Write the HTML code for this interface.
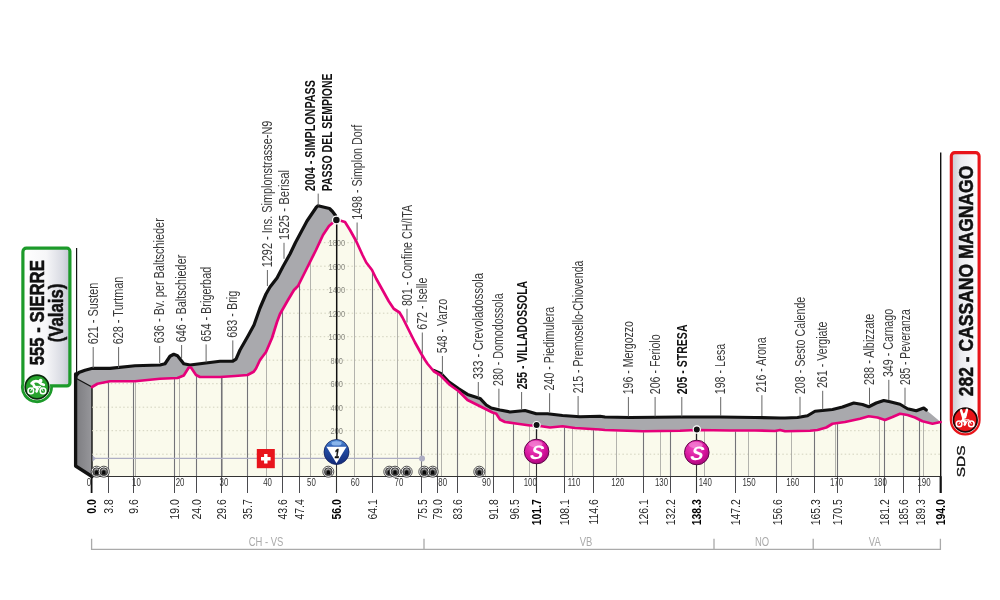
<!DOCTYPE html>
<html lang="it"><head><meta charset="utf-8"><title>Sierre - Cassano Magnago</title>
<style>
html,body{margin:0;padding:0;background:#fff}
body{width:1000px;height:600px;overflow:hidden}
svg{display:block}
text{font-family:"Liberation Sans",sans-serif}
.lb{font-size:14.1px;fill:#3a3a3a}
.lbb{font-size:14.8px;fill:#111;font-weight:bold}
.km{font-size:13.5px;fill:#2a2a2a}
.kmb{font-size:13.5px;fill:#000;font-weight:bold}
.tk{font-size:10.5px;fill:#333;text-anchor:middle}
.el{font-size:9.3px;fill:#8a8a82;text-anchor:middle}
.pv{font-size:13.5px;fill:#aaa;text-anchor:middle}
</style></head><body>
<svg width="1000" height="600" viewBox="0 0 1000 600">
<defs>
<linearGradient id="gbox" x1="0" y1="0" x2="1" y2="0"><stop offset="0" stop-color="#ffffff"/><stop offset="0.5" stop-color="#f6f6f8"/><stop offset="0.85" stop-color="#d8dae2"/><stop offset="1" stop-color="#c2c6d2"/></linearGradient>
<linearGradient id="gbox2" x1="0" y1="0" x2="1" y2="0"><stop offset="0" stop-color="#c6c6ce"/><stop offset="0.35" stop-color="#ececf0"/><stop offset="1" stop-color="#ffffff"/></linearGradient>
<radialGradient id="gs" cx="0.4" cy="0.3" r="0.8"><stop offset="0" stop-color="#f04cc0"/><stop offset="0.6" stop-color="#d4109a"/><stop offset="1" stop-color="#9c0670"/></radialGradient>
<linearGradient id="gk" x1="0" y1="0" x2="0" y2="1"><stop offset="0" stop-color="#5a98e0"/><stop offset="0.35" stop-color="#2450a8"/><stop offset="1" stop-color="#142a78"/></linearGradient>
<linearGradient id="gleft" x1="0" y1="0" x2="1" y2="0"><stop offset="0" stop-color="#7c7c80"/><stop offset="1" stop-color="#97979b"/></linearGradient>
</defs>
<rect width="1000" height="600" fill="#fff"/>

<polygon points="75.60,378.50 76.30,375.40 78.75,372.60 85.00,370.20 92.50,368.30 110.00,368.40 135.00,365.75 160.00,365.00 165.00,363.75 170.00,356.25 173.75,354.25 177.50,355.75 183.75,363.75 190.00,365.00 210.00,362.50 220.00,361.25 232.50,361.25 236.00,359.20 240.00,350.00 248.00,336.00 254.00,325.00 260.00,308.00 266.00,294.00 270.00,287.00 277.00,278.00 283.00,266.50 290.00,254.00 295.50,242.50 307.00,221.00 316.50,207.00 318.00,205.80 329.50,208.50 332.50,211.50 335.50,215.50 340.00,220.50 345.00,222.00 350.00,230.00 356.25,241.25 362.50,255.00 366.25,262.50 372.00,270.00 376.25,278.75 382.50,290.00 388.75,301.25 393.75,308.75 399.50,312.50 402.50,317.50 407.50,327.50 415.00,342.50 421.25,353.75 425.00,360.00 427.50,363.75 433.75,370.40 441.25,373.80 448.75,381.80 458.75,388.80 467.50,394.40 480.00,398.40 486.25,405.00 491.25,408.00 500.00,410.00 510.00,412.00 525.00,410.50 536.25,413.75 547.50,413.75 562.50,415.50 580.00,416.75 600.00,416.25 605.00,417.00 630.00,417.50 680.00,417.00 720.00,417.00 755.00,417.50 780.00,418.00 785.00,418.00 797.50,417.50 807.50,415.75 815.00,411.25 832.50,409.50 842.50,407.00 853.75,403.00 862.50,404.50 868.75,406.75 876.25,403.00 883.75,400.50 890.00,401.75 900.00,404.25 907.50,408.75 916.25,410.75 923.75,408.00 926.25,410.00 940.60,422.00 932.50,423.75 922.50,421.25 915.00,417.50 907.50,415.00 900.00,413.75 892.50,417.00 885.00,420.00 877.50,417.50 868.75,416.25 860.00,418.75 845.00,422.00 832.50,423.75 826.25,427.50 817.50,430.00 810.00,430.75 785.00,431.25 780.00,430.00 775.00,431.00 755.00,430.50 730.00,430.50 696.25,430.00 680.00,430.75 642.50,431.25 605.00,430.00 600.00,429.50 575.00,428.00 562.50,426.25 550.00,427.50 536.25,425.50 530.00,425.50 517.50,423.75 505.00,422.00 500.00,419.50 496.25,413.75 492.50,412.50 482.50,407.50 467.50,400.00 458.75,391.25 450.00,385.00 440.00,375.00 433.75,371.25 427.50,363.75 425.00,360.00 421.25,353.75 415.00,342.50 407.50,327.50 402.50,317.50 399.50,312.50 393.75,308.75 388.75,301.25 382.50,290.00 376.25,278.75 372.00,270.00 366.25,262.50 362.50,255.00 356.25,241.25 350.00,230.00 345.00,222.00 340.00,220.50 336.50,220.00 332.50,223.00 329.00,226.00 323.00,235.00 316.00,250.00 306.00,270.00 298.00,286.00 294.00,290.00 288.00,300.00 280.00,314.00 277.00,322.00 272.00,338.00 266.00,352.00 260.00,360.00 256.00,368.50 253.70,371.80 247.50,375.00 235.00,376.00 220.00,377.00 200.00,377.00 196.00,375.00 191.00,367.50 188.75,367.50 183.75,375.50 177.50,378.00 160.00,378.75 135.00,381.25 110.00,381.25 97.50,383.75 92.00,387.00" fill="#a9a9ad"/>
<polyline points="75.60,378.50 76.30,375.40 78.75,372.60 85.00,370.20 92.50,368.30 110.00,368.40 135.00,365.75 160.00,365.00 165.00,363.75 170.00,356.25 173.75,354.25 177.50,355.75 183.75,363.75 190.00,365.00 210.00,362.50 220.00,361.25 232.50,361.25 236.00,359.20 240.00,350.00 248.00,336.00 254.00,325.00 260.00,308.00 266.00,294.00 270.00,287.00 277.00,278.00 283.00,266.50 290.00,254.00 295.50,242.50 307.00,221.00 316.50,207.00 318.00,205.80 329.50,208.50 332.50,211.50 335.50,215.50" fill="none" stroke="#111" stroke-width="3.2" stroke-linejoin="round" stroke-linecap="round"/>
<polyline points="433.75,370.40 441.25,373.80 448.75,381.80 458.75,388.80 467.50,394.40 480.00,398.40 486.25,405.00 491.25,408.00 500.00,410.00 510.00,412.00 525.00,410.50 536.25,413.75 547.50,413.75 562.50,415.50 580.00,416.75 600.00,416.25 605.00,417.00 630.00,417.50 680.00,417.00 720.00,417.00 755.00,417.50 780.00,418.00 785.00,418.00 797.50,417.50 807.50,415.75 815.00,411.25 832.50,409.50 842.50,407.00 853.75,403.00 862.50,404.50 868.75,406.75 876.25,403.00 883.75,400.50 890.00,401.75 900.00,404.25 907.50,408.75 916.25,410.75 923.75,408.00 926.25,410.00" fill="none" stroke="#111" stroke-width="3.2" stroke-linejoin="round" stroke-linecap="round"/>
<polygon points="92.00,387.00 97.50,383.75 110.00,381.25 135.00,381.25 160.00,378.75 177.50,378.00 183.75,375.50 188.75,367.50 191.00,367.50 196.00,375.00 200.00,377.00 220.00,377.00 235.00,376.00 247.50,375.00 253.70,371.80 256.00,368.50 260.00,360.00 266.00,352.00 272.00,338.00 277.00,322.00 280.00,314.00 288.00,300.00 294.00,290.00 298.00,286.00 306.00,270.00 316.00,250.00 323.00,235.00 329.00,226.00 332.50,223.00 336.50,220.00 340.00,220.50 345.00,222.00 350.00,230.00 356.25,241.25 362.50,255.00 366.25,262.50 372.00,270.00 376.25,278.75 382.50,290.00 388.75,301.25 393.75,308.75 399.50,312.50 402.50,317.50 407.50,327.50 415.00,342.50 421.25,353.75 425.00,360.00 427.50,363.75 433.75,371.25 440.00,375.00 450.00,385.00 458.75,391.25 467.50,400.00 482.50,407.50 492.50,412.50 496.25,413.75 500.00,419.50 505.00,422.00 517.50,423.75 530.00,425.50 536.25,425.50 550.00,427.50 562.50,426.25 575.00,428.00 600.00,429.50 605.00,430.00 642.50,431.25 680.00,430.75 696.25,430.00 730.00,430.50 755.00,430.50 775.00,431.00 780.00,430.00 785.00,431.25 810.00,430.75 817.50,430.00 826.25,427.50 832.50,423.75 845.00,422.00 860.00,418.75 868.75,416.25 877.50,417.50 885.00,420.00 892.50,417.00 900.00,413.75 907.50,415.00 915.00,417.50 922.50,421.25 932.50,423.75 940.60,422.00 940.60,476.50 92.00,476.50" fill="#fafaec"/>
<polygon points="75.5,378 92,387 92,476.5 75.5,466" fill="url(#gleft)" stroke="#111" stroke-width="1.4" stroke-linejoin="round"/>
<path d="M75.6,374 L75.6,466 L92,476.5" fill="none" stroke="#111" stroke-width="3.3" stroke-linejoin="round" stroke-linecap="round"/>
<line x1="92.0" y1="454.2" x2="940.5" y2="454.2" stroke="#d2d2be" stroke-width="1" stroke-dasharray="1.5,2.4"/>
<line x1="92.0" y1="430.7" x2="601.5" y2="430.7" stroke="#d2d2be" stroke-width="1" stroke-dasharray="1.5,2.4"/>
<line x1="819.0" y1="430.7" x2="940.5" y2="430.7" stroke="#d2d2be" stroke-width="1" stroke-dasharray="1.5,2.4"/>
<line x1="92.0" y1="407.2" x2="479.5" y2="407.2" stroke="#d2d2be" stroke-width="1" stroke-dasharray="1.5,2.4"/>
<line x1="103.0" y1="383.7" x2="447.5" y2="383.7" stroke="#d2d2be" stroke-width="1" stroke-dasharray="1.5,2.4"/>
<line x1="261.0" y1="360.2" x2="424.5" y2="360.2" stroke="#d2d2be" stroke-width="1" stroke-dasharray="1.5,2.4"/>
<line x1="273.0" y1="336.7" x2="411.5" y2="336.7" stroke="#d2d2be" stroke-width="1" stroke-dasharray="1.5,2.4"/>
<line x1="281.5" y1="313.2" x2="399.0" y2="313.2" stroke="#d2d2be" stroke-width="1" stroke-dasharray="1.5,2.4"/>
<line x1="295.5" y1="289.7" x2="381.5" y2="289.7" stroke="#d2d2be" stroke-width="1" stroke-dasharray="1.5,2.4"/>
<line x1="308.5" y1="266.2" x2="368.0" y2="266.2" stroke="#d2d2be" stroke-width="1" stroke-dasharray="1.5,2.4"/>
<line x1="320.0" y1="242.7" x2="356.0" y2="242.7" stroke="#d2d2be" stroke-width="1" stroke-dasharray="1.5,2.4"/>
<line x1="135.5" y1="382.2" x2="135.5" y2="476.5" stroke="#9c9c98" stroke-width="1" opacity="0.75"/>
<line x1="179.5" y1="378.2" x2="179.5" y2="476.5" stroke="#9c9c98" stroke-width="1" opacity="0.75"/>
<line x1="222.5" y1="377.8" x2="222.5" y2="476.5" stroke="#9c9c98" stroke-width="1" opacity="0.75"/>
<line x1="266.5" y1="351.8" x2="266.5" y2="476.5" stroke="#9c9c98" stroke-width="1" opacity="0.75"/>
<line x1="310.5" y1="262.0" x2="310.5" y2="476.5" stroke="#9c9c98" stroke-width="1" opacity="0.75"/>
<line x1="354.5" y1="239.1" x2="354.5" y2="476.5" stroke="#9c9c98" stroke-width="1" opacity="0.75"/>
<line x1="397.5" y1="312.2" x2="397.5" y2="476.5" stroke="#9c9c98" stroke-width="1" opacity="0.75"/>
<line x1="441.5" y1="377.5" x2="441.5" y2="476.5" stroke="#9c9c98" stroke-width="1" opacity="0.75"/>
<line x1="485.5" y1="410.0" x2="485.5" y2="476.5" stroke="#9c9c98" stroke-width="1" opacity="0.75"/>
<line x1="529.5" y1="426.4" x2="529.5" y2="476.5" stroke="#9c9c98" stroke-width="1" opacity="0.75"/>
<line x1="572.5" y1="428.6" x2="572.5" y2="476.5" stroke="#9c9c98" stroke-width="1" opacity="0.75"/>
<line x1="616.5" y1="431.4" x2="616.5" y2="476.5" stroke="#9c9c98" stroke-width="1" opacity="0.75"/>
<line x1="660.5" y1="432.0" x2="660.5" y2="476.5" stroke="#9c9c98" stroke-width="1" opacity="0.75"/>
<line x1="704.5" y1="431.1" x2="704.5" y2="476.5" stroke="#9c9c98" stroke-width="1" opacity="0.75"/>
<line x1="748.5" y1="431.5" x2="748.5" y2="476.5" stroke="#9c9c98" stroke-width="1" opacity="0.75"/>
<line x1="791.5" y1="432.1" x2="791.5" y2="476.5" stroke="#9c9c98" stroke-width="1" opacity="0.75"/>
<line x1="835.5" y1="424.3" x2="835.5" y2="476.5" stroke="#9c9c98" stroke-width="1" opacity="0.75"/>
<line x1="879.5" y1="419.2" x2="879.5" y2="476.5" stroke="#9c9c98" stroke-width="1" opacity="0.75"/>
<line x1="923.5" y1="422.5" x2="923.5" y2="476.5" stroke="#9c9c98" stroke-width="1" opacity="0.75"/>
<line x1="108.5" y1="382.6" x2="108.5" y2="476.5" stroke="#5c5c64" stroke-width="1.1" opacity="0.85"/>
<line x1="108.5" y1="476.5" x2="108.5" y2="493" stroke="#4a4a4e" stroke-width="1"/>
<line x1="133.5" y1="382.2" x2="133.5" y2="476.5" stroke="#5c5c64" stroke-width="1.1" opacity="0.85"/>
<line x1="133.5" y1="476.5" x2="133.5" y2="493" stroke="#4a4a4e" stroke-width="1"/>
<line x1="174.5" y1="379.1" x2="174.5" y2="476.5" stroke="#5c5c64" stroke-width="1.1" opacity="0.85"/>
<line x1="174.5" y1="476.5" x2="174.5" y2="493" stroke="#4a4a4e" stroke-width="1"/>
<line x1="196.5" y1="376.2" x2="196.5" y2="476.5" stroke="#5c5c64" stroke-width="1.1" opacity="0.85"/>
<line x1="196.5" y1="476.5" x2="196.5" y2="493" stroke="#4a4a4e" stroke-width="1"/>
<line x1="221.5" y1="377.9" x2="221.5" y2="476.5" stroke="#5c5c64" stroke-width="1.1" opacity="0.85"/>
<line x1="221.5" y1="476.5" x2="221.5" y2="493" stroke="#4a4a4e" stroke-width="1"/>
<line x1="247.5" y1="376.0" x2="247.5" y2="476.5" stroke="#5c5c64" stroke-width="1.1" opacity="0.85"/>
<line x1="247.5" y1="476.5" x2="247.5" y2="493" stroke="#4a4a4e" stroke-width="1"/>
<line x1="282.5" y1="310.6" x2="282.5" y2="476.5" stroke="#5c5c64" stroke-width="1.1" opacity="0.85"/>
<line x1="282.5" y1="476.5" x2="282.5" y2="493" stroke="#4a4a4e" stroke-width="1"/>
<line x1="299.5" y1="284.0" x2="299.5" y2="476.5" stroke="#5c5c64" stroke-width="1.1" opacity="0.85"/>
<line x1="299.5" y1="476.5" x2="299.5" y2="493" stroke="#4a4a4e" stroke-width="1"/>
<line x1="372.5" y1="272.0" x2="372.5" y2="476.5" stroke="#5c5c64" stroke-width="1.1" opacity="0.85"/>
<line x1="372.5" y1="476.5" x2="372.5" y2="493" stroke="#4a4a4e" stroke-width="1"/>
<line x1="421.5" y1="355.2" x2="421.5" y2="476.5" stroke="#5c5c64" stroke-width="1.1" opacity="0.85"/>
<line x1="421.5" y1="476.5" x2="421.5" y2="493" stroke="#4a4a4e" stroke-width="1"/>
<line x1="437.5" y1="374.5" x2="437.5" y2="476.5" stroke="#5c5c64" stroke-width="1.1" opacity="0.85"/>
<line x1="437.5" y1="476.5" x2="437.5" y2="493" stroke="#4a4a4e" stroke-width="1"/>
<line x1="457.5" y1="391.4" x2="457.5" y2="476.5" stroke="#5c5c64" stroke-width="1.1" opacity="0.85"/>
<line x1="457.5" y1="476.5" x2="457.5" y2="493" stroke="#4a4a4e" stroke-width="1"/>
<line x1="493.5" y1="413.8" x2="493.5" y2="476.5" stroke="#5c5c64" stroke-width="1.1" opacity="0.85"/>
<line x1="493.5" y1="476.5" x2="493.5" y2="493" stroke="#4a4a4e" stroke-width="1"/>
<line x1="513.5" y1="424.2" x2="513.5" y2="476.5" stroke="#5c5c64" stroke-width="1.1" opacity="0.85"/>
<line x1="513.5" y1="476.5" x2="513.5" y2="493" stroke="#4a4a4e" stroke-width="1"/>
<line x1="564.5" y1="427.5" x2="564.5" y2="476.5" stroke="#5c5c64" stroke-width="1.1" opacity="0.85"/>
<line x1="564.5" y1="476.5" x2="564.5" y2="493" stroke="#4a4a4e" stroke-width="1"/>
<line x1="593.5" y1="430.1" x2="593.5" y2="476.5" stroke="#5c5c64" stroke-width="1.1" opacity="0.85"/>
<line x1="593.5" y1="476.5" x2="593.5" y2="493" stroke="#4a4a4e" stroke-width="1"/>
<line x1="643.5" y1="432.2" x2="643.5" y2="476.5" stroke="#5c5c64" stroke-width="1.1" opacity="0.85"/>
<line x1="643.5" y1="476.5" x2="643.5" y2="493" stroke="#4a4a4e" stroke-width="1"/>
<line x1="670.5" y1="431.9" x2="670.5" y2="476.5" stroke="#5c5c64" stroke-width="1.1" opacity="0.85"/>
<line x1="670.5" y1="476.5" x2="670.5" y2="493" stroke="#4a4a4e" stroke-width="1"/>
<line x1="735.5" y1="431.5" x2="735.5" y2="476.5" stroke="#5c5c64" stroke-width="1.1" opacity="0.85"/>
<line x1="735.5" y1="476.5" x2="735.5" y2="493" stroke="#4a4a4e" stroke-width="1"/>
<line x1="776.5" y1="431.7" x2="776.5" y2="476.5" stroke="#5c5c64" stroke-width="1.1" opacity="0.85"/>
<line x1="776.5" y1="476.5" x2="776.5" y2="493" stroke="#4a4a4e" stroke-width="1"/>
<line x1="814.5" y1="431.3" x2="814.5" y2="476.5" stroke="#5c5c64" stroke-width="1.1" opacity="0.85"/>
<line x1="814.5" y1="476.5" x2="814.5" y2="493" stroke="#4a4a4e" stroke-width="1"/>
<line x1="837.5" y1="424.1" x2="837.5" y2="476.5" stroke="#5c5c64" stroke-width="1.1" opacity="0.85"/>
<line x1="837.5" y1="476.5" x2="837.5" y2="493" stroke="#4a4a4e" stroke-width="1"/>
<line x1="884.5" y1="420.8" x2="884.5" y2="476.5" stroke="#5c5c64" stroke-width="1.1" opacity="0.85"/>
<line x1="884.5" y1="476.5" x2="884.5" y2="493" stroke="#4a4a4e" stroke-width="1"/>
<line x1="903.5" y1="415.3" x2="903.5" y2="476.5" stroke="#5c5c64" stroke-width="1.1" opacity="0.85"/>
<line x1="903.5" y1="476.5" x2="903.5" y2="493" stroke="#4a4a4e" stroke-width="1"/>
<line x1="919.5" y1="420.8" x2="919.5" y2="476.5" stroke="#5c5c64" stroke-width="1.1" opacity="0.85"/>
<line x1="919.5" y1="476.5" x2="919.5" y2="493" stroke="#4a4a4e" stroke-width="1"/>
<line x1="93" y1="458.4" x2="422.0" y2="458.4" stroke="#aeaec4" stroke-width="1.4"/>
<path d="M92.6,455.4 L96,458.4 L92.6,461.4 Z" fill="#aeaec4"/>
<circle cx="422.0" cy="458.4" r="3" fill="#aeaec4"/>
<text class="el" transform="translate(336.8,434.0) scale(0.8,1)">200</text>
<text class="el" transform="translate(336.8,410.5) scale(0.8,1)">400</text>
<text class="el" transform="translate(336.8,387.0) scale(0.8,1)">600</text>
<text class="el" transform="translate(336.8,363.5) scale(0.8,1)">800</text>
<text class="el" transform="translate(336.8,340.0) scale(0.8,1)">1000</text>
<text class="el" transform="translate(336.8,316.5) scale(0.8,1)">1200</text>
<text class="el" transform="translate(336.8,293.0) scale(0.8,1)">1400</text>
<text class="el" transform="translate(336.8,269.5) scale(0.8,1)">1600</text>
<text class="el" transform="translate(336.8,246.0) scale(0.8,1)">1800</text>
<line x1="91" y1="476.5" x2="941.5" y2="476.5" stroke="#333" stroke-width="1.1"/>
<line x1="336.5" y1="460" x2="336.5" y2="493" stroke="#333" stroke-width="1.1"/>
<line x1="336.7" y1="221" x2="336.7" y2="445" stroke="#111" stroke-width="1.5"/>
<line x1="536.5" y1="460" x2="536.5" y2="493" stroke="#333" stroke-width="1.1"/>
<line x1="536.5" y1="425.5" x2="536.5" y2="445" stroke="#222" stroke-width="1.3"/>
<line x1="696.5" y1="460" x2="696.5" y2="493" stroke="#333" stroke-width="1.1"/>
<line x1="696.5" y1="430.0" x2="696.5" y2="445" stroke="#222" stroke-width="1.3"/>
<line x1="91.6" y1="476.5" x2="91.6" y2="493" stroke="#111" stroke-width="1.8"/>
<line x1="940.7" y1="476.5" x2="940.7" y2="493" stroke="#111" stroke-width="2.2"/>
<line x1="940.7" y1="152.5" x2="940.7" y2="476.5" stroke="#111" stroke-width="1.4"/>
<line x1="76.6" y1="248" x2="76.6" y2="374" stroke="#111" stroke-width="1.2"/>
<polyline points="92.00,387.00 97.50,383.75 110.00,381.25 135.00,381.25 160.00,378.75 177.50,378.00 183.75,375.50 188.75,367.50 191.00,367.50 196.00,375.00 200.00,377.00 220.00,377.00 235.00,376.00 247.50,375.00 253.70,371.80 256.00,368.50 260.00,360.00 266.00,352.00 272.00,338.00 277.00,322.00 280.00,314.00 288.00,300.00 294.00,290.00 298.00,286.00 306.00,270.00 316.00,250.00 323.00,235.00 329.00,226.00 332.50,223.00 336.50,220.00 340.00,220.50 345.00,222.00 350.00,230.00 356.25,241.25 362.50,255.00 366.25,262.50 372.00,270.00 376.25,278.75 382.50,290.00 388.75,301.25 393.75,308.75 399.50,312.50 402.50,317.50 407.50,327.50 415.00,342.50 421.25,353.75 425.00,360.00 427.50,363.75 433.75,371.25 440.00,375.00 450.00,385.00 458.75,391.25 467.50,400.00 482.50,407.50 492.50,412.50 496.25,413.75 500.00,419.50 505.00,422.00 517.50,423.75 530.00,425.50 536.25,425.50 550.00,427.50 562.50,426.25 575.00,428.00 600.00,429.50 605.00,430.00 642.50,431.25 680.00,430.75 696.25,430.00 730.00,430.50 755.00,430.50 775.00,431.00 780.00,430.00 785.00,431.25 810.00,430.75 817.50,430.00 826.25,427.50 832.50,423.75 845.00,422.00 860.00,418.75 868.75,416.25 877.50,417.50 885.00,420.00 892.50,417.00 900.00,413.75 907.50,415.00 915.00,417.50 922.50,421.25 932.50,423.75 940.60,422.00" fill="none" stroke="#e6007a" stroke-width="2.7" stroke-linejoin="round" stroke-linecap="round"/>
<text class="tk" transform="translate(89.0,486.1) scale(0.75,1)">0</text>
<text class="tk" transform="translate(136.4,486.1) scale(0.75,1)">10</text>
<text class="tk" transform="translate(180.1,486.1) scale(0.75,1)">20</text>
<text class="tk" transform="translate(223.9,486.1) scale(0.75,1)">30</text>
<text class="tk" transform="translate(267.6,486.1) scale(0.75,1)">40</text>
<text class="tk" transform="translate(311.4,486.1) scale(0.75,1)">50</text>
<text class="tk" transform="translate(355.2,486.1) scale(0.75,1)">60</text>
<text class="tk" transform="translate(398.9,486.1) scale(0.75,1)">70</text>
<text class="tk" transform="translate(442.7,486.1) scale(0.75,1)">80</text>
<text class="tk" transform="translate(486.4,486.1) scale(0.75,1)">90</text>
<text class="tk" transform="translate(530.2,486.1) scale(0.75,1)">100</text>
<text class="tk" transform="translate(574.0,486.1) scale(0.75,1)">110</text>
<text class="tk" transform="translate(617.7,486.1) scale(0.75,1)">120</text>
<text class="tk" transform="translate(661.5,486.1) scale(0.75,1)">130</text>
<text class="tk" transform="translate(705.2,486.1) scale(0.75,1)">140</text>
<text class="tk" transform="translate(749.0,486.1) scale(0.75,1)">150</text>
<text class="tk" transform="translate(792.8,486.1) scale(0.75,1)">160</text>
<text class="tk" transform="translate(836.5,486.1) scale(0.75,1)">170</text>
<text class="tk" transform="translate(880.3,486.1) scale(0.75,1)">180</text>
<text class="tk" transform="translate(924.0,486.1) scale(0.75,1)">190</text>
<text class="kmb" text-anchor="end" transform="translate(96.2,499.2) rotate(-90) scale(0.775,1)">0.0</text>
<text class="km" text-anchor="end" transform="translate(112.8,499.2) rotate(-90) scale(0.775,1)">3.8</text>
<text class="km" text-anchor="end" transform="translate(138.2,499.2) rotate(-90) scale(0.775,1)">9.6</text>
<text class="km" text-anchor="end" transform="translate(179.3,499.2) rotate(-90) scale(0.775,1)">19.0</text>
<text class="km" text-anchor="end" transform="translate(201.2,499.2) rotate(-90) scale(0.775,1)">24.0</text>
<text class="km" text-anchor="end" transform="translate(225.7,499.2) rotate(-90) scale(0.775,1)">29.6</text>
<text class="km" text-anchor="end" transform="translate(252.4,499.2) rotate(-90) scale(0.775,1)">35.7</text>
<text class="km" text-anchor="end" transform="translate(287.0,499.2) rotate(-90) scale(0.775,1)">43.6</text>
<text class="km" text-anchor="end" transform="translate(303.6,499.2) rotate(-90) scale(0.775,1)">47.4</text>
<text class="kmb" text-anchor="end" transform="translate(341.3,499.2) rotate(-90) scale(0.775,1)">56.0</text>
<text class="km" text-anchor="end" transform="translate(376.7,499.2) rotate(-90) scale(0.775,1)">64.1</text>
<text class="km" text-anchor="end" transform="translate(426.6,499.2) rotate(-90) scale(0.775,1)">75.5</text>
<text class="km" text-anchor="end" transform="translate(441.9,499.2) rotate(-90) scale(0.775,1)">79.0</text>
<text class="km" text-anchor="end" transform="translate(462.0,499.2) rotate(-90) scale(0.775,1)">83.6</text>
<text class="km" text-anchor="end" transform="translate(497.9,499.2) rotate(-90) scale(0.775,1)">91.8</text>
<text class="km" text-anchor="end" transform="translate(518.5,499.2) rotate(-90) scale(0.775,1)">96.5</text>
<text class="kmb" text-anchor="end" transform="translate(541.2,499.2) rotate(-90) scale(0.775,1)">101.7</text>
<text class="km" text-anchor="end" transform="translate(569.2,499.2) rotate(-90) scale(0.775,1)">108.1</text>
<text class="km" text-anchor="end" transform="translate(597.7,499.2) rotate(-90) scale(0.775,1)">114.6</text>
<text class="km" text-anchor="end" transform="translate(648.0,499.2) rotate(-90) scale(0.775,1)">126.1</text>
<text class="km" text-anchor="end" transform="translate(674.7,499.2) rotate(-90) scale(0.775,1)">132.2</text>
<text class="kmb" text-anchor="end" transform="translate(701.4,499.2) rotate(-90) scale(0.775,1)">138.3</text>
<text class="km" text-anchor="end" transform="translate(740.3,499.2) rotate(-90) scale(0.775,1)">147.2</text>
<text class="km" text-anchor="end" transform="translate(781.5,499.2) rotate(-90) scale(0.775,1)">156.6</text>
<text class="km" text-anchor="end" transform="translate(819.6,499.2) rotate(-90) scale(0.775,1)">165.3</text>
<text class="km" text-anchor="end" transform="translate(842.3,499.2) rotate(-90) scale(0.775,1)">170.5</text>
<text class="km" text-anchor="end" transform="translate(889.1,499.2) rotate(-90) scale(0.775,1)">181.2</text>
<text class="km" text-anchor="end" transform="translate(908.4,499.2) rotate(-90) scale(0.775,1)">185.6</text>
<text class="km" text-anchor="end" transform="translate(924.6,499.2) rotate(-90) scale(0.775,1)">189.3</text>
<text class="kmb" text-anchor="end" transform="translate(945.1,499.2) rotate(-90) scale(0.775,1)">194.0</text>
<line x1="93.2" y1="347.0" x2="93.2" y2="368.0" stroke="#666" stroke-width="1"/>
<text class="lb" transform="translate(97.7,344.3) rotate(-90) scale(0.772,1)">621 - Susten</text>
<line x1="118.6" y1="347.0" x2="118.6" y2="368.0" stroke="#666" stroke-width="1"/>
<text class="lb" transform="translate(123.1,344.3) rotate(-90) scale(0.772,1)">628 - Turtman</text>
<line x1="159.7" y1="346.0" x2="159.7" y2="363.0" stroke="#666" stroke-width="1"/>
<text class="lb" transform="translate(164.2,343.3) rotate(-90) scale(0.777,1)">636 - Bv. per Baltschieder</text>
<line x1="181.6" y1="345.0" x2="181.6" y2="358.0" stroke="#666" stroke-width="1"/>
<text class="lb" transform="translate(186.1,342.3) rotate(-90) scale(0.772,1)">646 - Baltschieder</text>
<line x1="206.1" y1="344.4" x2="206.1" y2="362.4" stroke="#666" stroke-width="1"/>
<text class="lb" transform="translate(210.6,341.7) rotate(-90) scale(0.772,1)">654 - Brigerbad</text>
<line x1="232.8" y1="340.4" x2="232.8" y2="359.0" stroke="#666" stroke-width="1"/>
<text class="lb" transform="translate(237.3,337.7) rotate(-90) scale(0.768,1)">683 - Brig</text>
<line x1="267.4" y1="270.0" x2="267.4" y2="286.0" stroke="#666" stroke-width="1"/>
<text class="lb" transform="translate(271.9,267.3) rotate(-90) scale(0.774,1)">1292 - Ins. Simplonstrasse-N9</text>
<line x1="284.0" y1="242.8" x2="284.0" y2="258.8" stroke="#666" stroke-width="1"/>
<text class="lb" transform="translate(288.5,240.1) rotate(-90) scale(0.806,1)">1525 - Berisal</text>
<line x1="318.2" y1="193.6" x2="318.2" y2="205.5" stroke="#666" stroke-width="1"/>
<text class="lbb" transform="translate(315.2,191.2) rotate(-90) scale(0.728,1)">2004 - SIMPLONPASS</text>
<text class="lbb" transform="translate(331.9,191.2) rotate(-90) scale(0.708,1)">PASSO DEL SEMPIONE</text>
<line x1="357.1" y1="222.5" x2="357.1" y2="240.0" stroke="#666" stroke-width="1"/>
<text class="lb" transform="translate(361.6,219.8) rotate(-90) scale(0.758,1)">1498 - Simplon Dorf</text>
<line x1="407.0" y1="308.8" x2="407.0" y2="322.5" stroke="#666" stroke-width="1"/>
<text class="lb" transform="translate(411.5,306.1) rotate(-90) scale(0.758,1)">801 - Confine CH/ITA</text>
<line x1="422.3" y1="332.5" x2="422.3" y2="353.8" stroke="#666" stroke-width="1"/>
<text class="lb" transform="translate(426.8,329.8) rotate(-90) scale(0.758,1)">672 - Iselle</text>
<line x1="442.4" y1="356.0" x2="442.4" y2="375.0" stroke="#666" stroke-width="1"/>
<text class="lb" transform="translate(446.9,353.3) rotate(-90) scale(0.758,1)">548 - Varzo</text>
<line x1="478.3" y1="382.0" x2="478.3" y2="397.5" stroke="#666" stroke-width="1"/>
<text class="lb" transform="translate(482.8,379.3) rotate(-90) scale(0.799,1)">333 - Crevoladossola</text>
<line x1="498.9" y1="388.7" x2="498.9" y2="407.5" stroke="#666" stroke-width="1"/>
<text class="lb" transform="translate(503.4,386.0) rotate(-90) scale(0.758,1)">280 - Domodossola</text>
<line x1="521.6" y1="392.0" x2="521.6" y2="410.0" stroke="#666" stroke-width="1"/>
<text class="lbb" transform="translate(526.8,389.3) rotate(-90) scale(0.706,1)">255 - VILLADOSSOLA</text>
<line x1="549.6" y1="393.2" x2="549.6" y2="412.6" stroke="#666" stroke-width="1"/>
<text class="lb" transform="translate(554.1,390.5) rotate(-90) scale(0.758,1)">240 - Piedimulera</text>
<line x1="578.1" y1="396.0" x2="578.1" y2="415.0" stroke="#666" stroke-width="1"/>
<text class="lb" transform="translate(582.6,393.3) rotate(-90) scale(0.743,1)">215 - Premosello-Chiovenda</text>
<line x1="628.4" y1="397.0" x2="628.4" y2="416.4" stroke="#666" stroke-width="1"/>
<text class="lb" transform="translate(632.9,394.3) rotate(-90) scale(0.748,1)">196 - Mergozzo</text>
<line x1="655.1" y1="397.0" x2="655.1" y2="416.4" stroke="#666" stroke-width="1"/>
<text class="lb" transform="translate(659.6,394.3) rotate(-90) scale(0.758,1)">206 - Feriolo</text>
<line x1="681.8" y1="397.0" x2="681.8" y2="416.4" stroke="#666" stroke-width="1"/>
<text class="lbb" transform="translate(687.0,394.3) rotate(-90) scale(0.714,1)">205 - STRESA</text>
<line x1="720.7" y1="397.0" x2="720.7" y2="416.0" stroke="#666" stroke-width="1"/>
<text class="lb" transform="translate(725.2,394.3) rotate(-90) scale(0.758,1)">198 - Lesa</text>
<line x1="761.9" y1="395.2" x2="761.9" y2="416.0" stroke="#666" stroke-width="1"/>
<text class="lb" transform="translate(766.4,392.5) rotate(-90) scale(0.758,1)">216 - Arona</text>
<line x1="800.0" y1="396.8" x2="800.0" y2="416.3" stroke="#666" stroke-width="1"/>
<text class="lb" transform="translate(804.5,394.1) rotate(-90) scale(0.758,1)">208 - Sesto Calende</text>
<line x1="822.7" y1="390.8" x2="822.7" y2="409.5" stroke="#666" stroke-width="1"/>
<text class="lb" transform="translate(827.2,388.1) rotate(-90) scale(0.758,1)">261 - Vergiate</text>
<line x1="869.5" y1="387.7" x2="869.5" y2="404.4" stroke="#666" stroke-width="1"/>
<text class="lb" transform="translate(874.0,385.0) rotate(-90) scale(0.772,1)">288 - Albizzate</text>
<line x1="888.8" y1="379.8" x2="888.8" y2="400.2" stroke="#666" stroke-width="1"/>
<text class="lb" transform="translate(893.3,377.1) rotate(-90) scale(0.758,1)">349 - Carnago</text>
<line x1="905.0" y1="387.7" x2="905.0" y2="405.2" stroke="#666" stroke-width="1"/>
<text class="lb" transform="translate(909.5,385.0) rotate(-90) scale(0.732,1)">285 - Peveranza</text>
<path d="M91.6,538.8 V549.4 H940.4 V538.8 M424,538.8 V549.4 M714,538.8 V549.4 M813.2,538.8 V549.4" fill="none" stroke="#aaa" stroke-width="1.3"/>
<text class="pv" transform="translate(266,545.5) scale(0.7,1)">CH - VS</text>
<text class="pv" transform="translate(586,545.5) scale(0.7,1)">VB</text>
<text class="pv" transform="translate(762,545.5) scale(0.7,1)">NO</text>
<text class="pv" transform="translate(874.8,545.5) scale(0.7,1)">VA</text>
<rect x="256.8" y="449" width="18" height="19.2" fill="#e8141c"/>
<path d="M264.1,454 h3.4 v3.1 h3.1 v3.4 h-3.1 v3.1 h-3.4 v-3.1 h-3.1 v-3.4 h3.1 z" fill="#fff"/>
<g transform="translate(96.6,471.7)"><circle r="5.5" fill="#fff" stroke="#222" stroke-width="0.8"/><circle r="3.9" fill="#626262" stroke="#222" stroke-width="0.7"/><path d="M-2.4,-1.2 A2.6,2.6 0 0 1 2.4,-1.2" stroke="#b8b8b8" stroke-width="1" fill="none"/><path d="M-1.7,2.9 V0.2 A1.7,1.7 0 0 1 1.7,0.2 V2.9 Z" fill="#080808"/></g>
<g transform="translate(103.8,471.7)"><circle r="5.5" fill="#fff" stroke="#222" stroke-width="0.8"/><circle r="3.9" fill="#626262" stroke="#222" stroke-width="0.7"/><path d="M-2.4,-1.2 A2.6,2.6 0 0 1 2.4,-1.2" stroke="#b8b8b8" stroke-width="1" fill="none"/><path d="M-1.7,2.9 V0.2 A1.7,1.7 0 0 1 1.7,0.2 V2.9 Z" fill="#080808"/></g>
<g transform="translate(328.3,471.7)"><circle r="5.5" fill="#fff" stroke="#222" stroke-width="0.8"/><circle r="3.9" fill="#626262" stroke="#222" stroke-width="0.7"/><path d="M-2.4,-1.2 A2.6,2.6 0 0 1 2.4,-1.2" stroke="#b8b8b8" stroke-width="1" fill="none"/><path d="M-1.7,2.9 V0.2 A1.7,1.7 0 0 1 1.7,0.2 V2.9 Z" fill="#080808"/></g>
<g transform="translate(389.3,471.7)"><circle r="5.5" fill="#fff" stroke="#222" stroke-width="0.8"/><circle r="3.9" fill="#626262" stroke="#222" stroke-width="0.7"/><path d="M-2.4,-1.2 A2.6,2.6 0 0 1 2.4,-1.2" stroke="#b8b8b8" stroke-width="1" fill="none"/><path d="M-1.7,2.9 V0.2 A1.7,1.7 0 0 1 1.7,0.2 V2.9 Z" fill="#080808"/></g>
<g transform="translate(395.0,471.7)"><circle r="5.5" fill="#fff" stroke="#222" stroke-width="0.8"/><circle r="3.9" fill="#626262" stroke="#222" stroke-width="0.7"/><path d="M-2.4,-1.2 A2.6,2.6 0 0 1 2.4,-1.2" stroke="#b8b8b8" stroke-width="1" fill="none"/><path d="M-1.7,2.9 V0.2 A1.7,1.7 0 0 1 1.7,0.2 V2.9 Z" fill="#080808"/></g>
<g transform="translate(406.7,471.7)"><circle r="5.5" fill="#fff" stroke="#222" stroke-width="0.8"/><circle r="3.9" fill="#626262" stroke="#222" stroke-width="0.7"/><path d="M-2.4,-1.2 A2.6,2.6 0 0 1 2.4,-1.2" stroke="#b8b8b8" stroke-width="1" fill="none"/><path d="M-1.7,2.9 V0.2 A1.7,1.7 0 0 1 1.7,0.2 V2.9 Z" fill="#080808"/></g>
<g transform="translate(424.3,471.7)"><circle r="5.5" fill="#fff" stroke="#222" stroke-width="0.8"/><circle r="3.9" fill="#626262" stroke="#222" stroke-width="0.7"/><path d="M-2.4,-1.2 A2.6,2.6 0 0 1 2.4,-1.2" stroke="#b8b8b8" stroke-width="1" fill="none"/><path d="M-1.7,2.9 V0.2 A1.7,1.7 0 0 1 1.7,0.2 V2.9 Z" fill="#080808"/></g>
<g transform="translate(432.7,471.7)"><circle r="5.5" fill="#fff" stroke="#222" stroke-width="0.8"/><circle r="3.9" fill="#626262" stroke="#222" stroke-width="0.7"/><path d="M-2.4,-1.2 A2.6,2.6 0 0 1 2.4,-1.2" stroke="#b8b8b8" stroke-width="1" fill="none"/><path d="M-1.7,2.9 V0.2 A1.7,1.7 0 0 1 1.7,0.2 V2.9 Z" fill="#080808"/></g>
<g transform="translate(479.3,471.7)"><circle r="5.5" fill="#fff" stroke="#222" stroke-width="0.8"/><circle r="3.9" fill="#626262" stroke="#222" stroke-width="0.7"/><path d="M-2.4,-1.2 A2.6,2.6 0 0 1 2.4,-1.2" stroke="#b8b8b8" stroke-width="1" fill="none"/><path d="M-1.7,2.9 V0.2 A1.7,1.7 0 0 1 1.7,0.2 V2.9 Z" fill="#080808"/></g>
<g transform="translate(336.5,452)"><circle r="12.5" fill="url(#gk)" stroke="#10205c" stroke-width="0.8"/><ellipse cx="0" cy="-8.6" rx="5" ry="2.2" fill="#9cc4f4" opacity="0.8"/><path d="M-10,-5.3 H10 L0,11.2 Z" fill="#fff"/><text transform="translate(0.4,5.6) scale(0.62,1)" text-anchor="middle" font-size="13" font-weight="bold" font-style="italic" fill="#111" stroke="#111" stroke-width="0.6">1</text></g>
<circle cx="336.4" cy="220" r="3.9" fill="#111" stroke="#fff" stroke-width="1.3"/>
<circle cx="536.6" cy="425.1" r="3.6" fill="#111" stroke="#fff" stroke-width="1.2"/>
<g transform="translate(536.6,451.5)"><circle r="12.3" fill="url(#gs)" stroke="#5e0848" stroke-width="1"/><ellipse cx="-1" cy="-7.5" rx="7" ry="3.2" fill="#f9a0e0" opacity="0.55"/><text transform="translate(-0.6,7.1) skewX(-10)" text-anchor="middle" font-size="19.5" font-weight="bold" font-style="italic" fill="#fff">S</text></g>
<circle cx="696.8" cy="429.5" r="3.6" fill="#111" stroke="#fff" stroke-width="1.2"/>
<g transform="translate(696.8,452.5)"><circle r="12.3" fill="url(#gs)" stroke="#5e0848" stroke-width="1"/><ellipse cx="-1" cy="-7.5" rx="7" ry="3.2" fill="#f9a0e0" opacity="0.55"/><text transform="translate(-0.6,7.1) skewX(-10)" text-anchor="middle" font-size="19.5" font-weight="bold" font-style="italic" fill="#fff">S</text></g>
<path d="M26.4,248.2 H66.9 A3,3 0 0 1 69.9,251.2 V382.9 A3,3 0 0 1 66.9,385.9 H51.3 A14.4,14.4 0 1 1 22.9,384 V251.7 A3.5,3.5 0 0 1 26.4,248.2 Z" fill="url(#gbox)" stroke="#1c9a2a" stroke-width="3.2"/>
<text transform="translate(43.8,365.3) rotate(-90) scale(0.825,1)" font-size="20.3" font-weight="bold" fill="#111" stroke="#111" stroke-width="0.5">555 - SIERRE</text>
<text transform="translate(63,313) rotate(-90) scale(0.825,1)" font-size="20.3" font-weight="bold" fill="#111" stroke="#111" stroke-width="0.5" text-anchor="middle">(Valais)</text>
<g transform="translate(37,387)"><circle r="13.2" fill="#fff"/><circle r="11.8" fill="#27a22d" stroke="#0a2a0c" stroke-width="1.7"/><g fill="none" stroke="#fff" stroke-width="1.5"><circle cx="-6.2" cy="3.9" r="2.8"/><circle cx="6" cy="3.9" r="2.8"/></g><circle cx="3.6" cy="-6.3" r="1.9" fill="#fff"/><path d="M-5.4,-3.6 Q-3,-7 1.6,-5.4 L4.4,-3 L6.8,-2.2 M-4.2,-3.8 L-2.6,-0.4 L0.6,1.2 L-0.4,4.4" fill="none" stroke="#fff" stroke-width="2.7" stroke-linecap="round" stroke-linejoin="round"/><path d="M-6.3,3.9 L-3.2,-0.6 L3.4,-0.6 L6,3.9 M-0.4,4.4 L3.4,-0.6" fill="none" stroke="#fff" stroke-width="1" stroke-linecap="round"/></g>
<path d="M954.8,152.6 H975.6 A3.5,3.5 0 0 1 979.1,156.1 V420 A13.9,13.9 0 0 1 951.3,420 V156.1 A3.5,3.5 0 0 1 954.8,152.6 Z" fill="url(#gbox2)" stroke="#e8141a" stroke-width="3.1"/>
<text transform="translate(973.4,396.2) rotate(-90) scale(0.893,1)" font-size="19.6" font-weight="bold" fill="#111" stroke="#111" stroke-width="0.5">282 - CASSANO MAGNAGO</text>
<g transform="translate(965.3,420)"><circle r="13.2" fill="#fff"/><circle r="11.8" fill="#e8141a" stroke="#1a0606" stroke-width="1.7"/><g fill="none" stroke="#fff" stroke-width="1.5"><circle cx="-6.2" cy="3.9" r="2.8"/><circle cx="6" cy="3.9" r="2.8"/></g><circle cx="-0.4" cy="-5.6" r="1.9" fill="#fff"/><path d="M-2.2,-2.8 L-4.2,-9.6 M-0.2,-2.8 L1.6,-10.2 M-1.6,-3.6 L-2.4,0.6 L0.4,2.2 L-0.6,4.6" fill="none" stroke="#fff" stroke-width="2.5" stroke-linecap="round" stroke-linejoin="round"/><path d="M-6.3,3.9 L-3.2,-0.2 L3.4,-0.2 L6,3.9 M-0.6,4.6 L3.4,-0.2" fill="none" stroke="#fff" stroke-width="1" stroke-linecap="round"/></g>
<text transform="translate(965,477.3) rotate(-90) scale(1.32,1)" font-size="11.7" fill="#111" stroke="#111" stroke-width="0.35">SDS</text>
</svg></body></html>
